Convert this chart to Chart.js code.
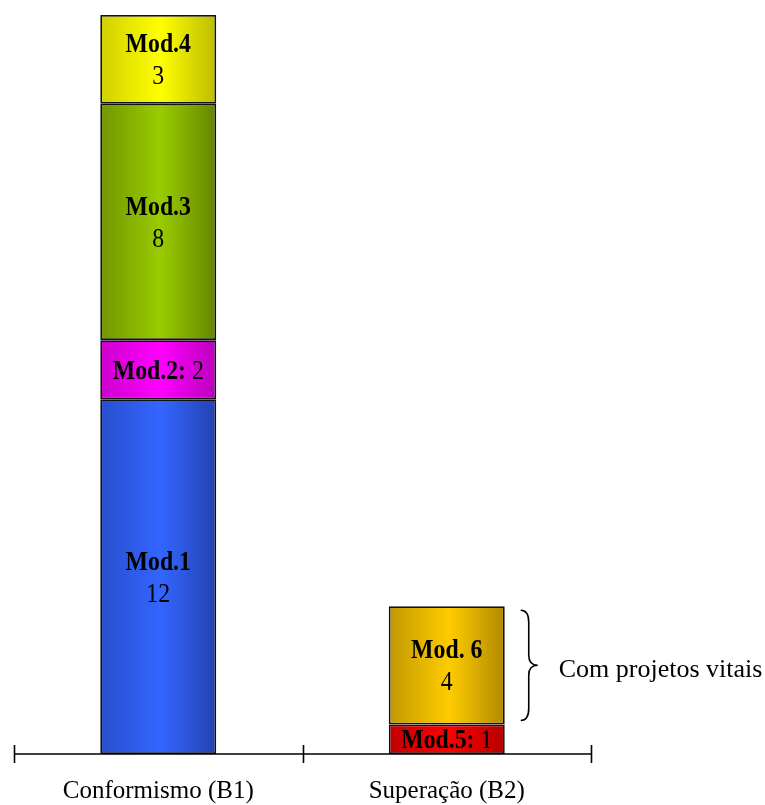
<!DOCTYPE html>
<html>
<head>
<meta charset="utf-8">
<script src="https://cdn.jsdelivr.net/npm/chart.js@4/dist/chart.umd.min.js"></script>
<style>
  html, body { margin: 0; padding: 0; background: #fff; }
  #c { display: block; }
</style>
</head>
<body>
<canvas id="c" width="765" height="805"></canvas>
<script>
// Categories and stacked module counts
const categories = ['Conformismo (B1)', 'Superação (B2)'];
const seriesNames = ['Mod.1', 'Mod.2', 'Mod.3', 'Mod.4', 'Mod.5', 'Mod. 6'];
const conformismoValues = [12, 2, 8, 3, null, null];
const superacaoValues = [null, null, null, null, 1, 4];
const bracketLabel = 'Com projetos vitais';
const bracketSeries = 'Mod. 6';
const yMax = 25;

// Shading of each segment: edge, highlight, far edge
const shades = [
  ['#284ecc', '#3366ff', '#2442b0'],
  ['#cc00cc', '#ff00ff', '#bb00bb'],
  ['#729600', '#99cc00', '#648600'],
  ['#d0d000', '#ffff00', '#bcbc00'],
  ['#c20000', '#ff0000', '#b40000'],
  ['#c09800', '#ffcc00', '#b08a00']
];

const SERIF = '"Liberation Serif", "Times New Roman", serif';

const datasets = seriesNames.map((name, i) => ({
  label: name,
  data: [conformismoValues[i], superacaoValues[i]],
  backgroundColor: () => shades[i][1],
  borderColor: '#111',
  borderWidth: 1.8,
  borderSkipped: false,
  categoryPercentage: 1,
  barPercentage: 0.402
}));

// Horizontal shading across every bar segment
const shadePlugin = {
  id: 'shade',
  beforeDatasetsDraw(chart) {
    const ctx = chart.ctx;
    chart.data.datasets.forEach((ds, i) => {
      chart.getDatasetMeta(i).data.forEach((el, j) => {
        if (ds.data[j] == null) return;
        const x0 = el.x - el.width / 2, x1 = el.x + el.width / 2;
        const g = ctx.createLinearGradient(x0, 0, x1, 0);
        g.addColorStop(0, shades[i][0]);
        g.addColorStop(0.52, shades[i][1]);
        g.addColorStop(1, shades[i][2]);
        el.options.backgroundColor = g;
      });
    });
  }
};

// Narrow text: glyphs squeezed horizontally by SX
const SX = 0.88;
function measure(ctx, text, font) {
  ctx.font = font;
  return ctx.measureText(text).width * SX;
}
function drawNarrow(ctx, text, x, y, font) {
  ctx.save();
  ctx.font = font;
  ctx.translate(x, y);
  ctx.scale(SX, 1);
  ctx.fillText(text, 0, 0);
  ctx.restore();
}

// Segment labels, category axis line and the bracket note
const annotatePlugin = {
  id: 'annotate',
  afterDatasetsDraw(chart) {
    const ctx = chart.ctx;
    const bold = 'bold 27px ' + SERIF;
    const regular = '27px ' + SERIF;
    ctx.save();
    ctx.fillStyle = '#000';
    ctx.textBaseline = 'alphabetic';
    ctx.textAlign = 'left';
    chart.data.datasets.forEach((ds, i) => {
      chart.getDatasetMeta(i).data.forEach((el, j) => {
        const v = ds.data[j];
        if (v == null) return;
        const cx = el.x;
        const top = Math.min(el.y, el.base), bottom = Math.max(el.y, el.base);
        const cy = (top + bottom) / 2;
        const capHalf = 9;
        if (bottom - top < 70) {
          const head = ds.label + ':';
          const tail = ' ' + v;
          const w1 = measure(ctx, head, bold);
          const w2 = measure(ctx, tail, regular);
          const x0 = cx - (w1 + w2) / 2;
          drawNarrow(ctx, head, x0, cy + capHalf, bold);
          drawNarrow(ctx, tail, x0 + w1, cy + capHalf, regular);
        } else {
          const w1 = measure(ctx, ds.label, bold);
          drawNarrow(ctx, ds.label, cx - w1 / 2, cy - 16 + capHalf, bold);
          const num = String(v);
          const w2 = measure(ctx, num, regular);
          drawNarrow(ctx, num, cx - w2 / 2, cy + 16 + capHalf, regular);
        }
        if (ds.label === bracketSeries) {
          const bx = el.x + el.width / 2 + 16;
          const t = top + 4, b = bottom - 4, m = (t + b) / 2;
          const d = 8;
          ctx.beginPath();
          ctx.lineWidth = 1.6;
          ctx.strokeStyle = '#000';
          ctx.moveTo(bx, t);
          ctx.quadraticCurveTo(bx + d, t, bx + d, t + 12);
          ctx.lineTo(bx + d, m - 10);
          ctx.quadraticCurveTo(bx + d, m, bx + d + 9, m);
          ctx.quadraticCurveTo(bx + d, m, bx + d, m + 10);
          ctx.lineTo(bx + d, b - 12);
          ctx.quadraticCurveTo(bx + d, b, bx, b);
          ctx.stroke();
          ctx.font = '26px ' + SERIF;
          ctx.fillText(bracketLabel, bx + 38, m + 12);
        }
      });
    });

    // category axis with ticks at the category boundaries
    const xs = chart.scales.x;
    const ya = chart.chartArea.bottom;
    const step = xs.width / categories.length;
    ctx.beginPath();
    ctx.lineWidth = 1.6;
    ctx.strokeStyle = '#000';
    ctx.moveTo(xs.left, ya);
    ctx.lineTo(xs.right, ya);
    for (let k = 0; k <= categories.length; k++) {
      const tx = Math.round(xs.left + k * step) + 0.5;
      ctx.moveTo(tx, ya - 9);
      ctx.lineTo(tx, ya + 9);
    }
    ctx.stroke();
    ctx.restore();
  }
};

new Chart(document.getElementById('c'), {
  type: 'bar',
  data: { labels: categories, datasets },
  options: {
    responsive: false,
    animation: false,
    events: [],
    layout: { padding: { left: 14, right: 174, top: 15, bottom: -15 } },
    plugins: { legend: { display: false }, tooltip: { enabled: false } },
    scales: {
      x: {
        stacked: true,
        offset: true,
        grid: { display: false },
        border: { display: false },
        ticks: {
          color: '#000',
          padding: 14,
          font: { family: SERIF, size: 25 }
        }
      },
      y: {
        stacked: true,
        display: false,
        min: 0,
        max: yMax
      }
    }
  },
  plugins: [shadePlugin, annotatePlugin]
});
</script>
</body>
</html>
